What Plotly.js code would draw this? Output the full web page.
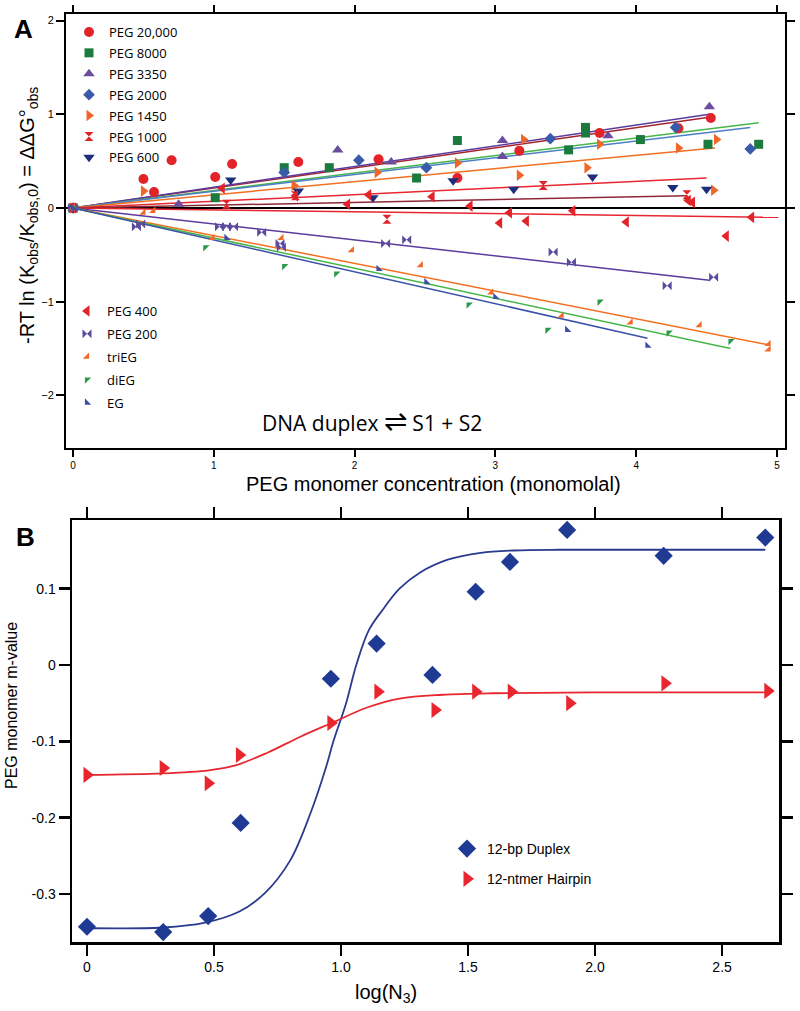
<!DOCTYPE html>
<html><head><meta charset="utf-8">
<script src="https://cdn.plot.ly/plotly-3.0.1.min.js"></script>
<style>html,body{margin:0;padding:0;background:#fff}#chart{width:800px;height:1011px}</style>
</head><body><div id="chart"></div>
<script>
// ---------- Panel A data (PEG monomer concentration, monomolal vs ΔΔG°obs) ----------
const peg20000X = [0, 0.50, 0.575, 0.70, 1.01, 1.13, 1.60, 2.17, 2.73, 3.17, 3.74, 4.30, 4.53];
const peg20000Y = [0, 0.31, 0.17, 0.51, 0.33, 0.47, 0.49, 0.52, 0.32, 0.61, 0.80, 0.85, 0.96];
const peg8000X = [0, 1.01, 1.50, 1.82, 2.44, 2.73, 3.52, 3.64, 3.64, 4.03, 4.51, 4.87];
const peg8000Y = [0, 0.11, 0.43, 0.43, 0.32, 0.72, 0.62, 0.86, 0.80, 0.73, 0.68, 0.68];
const peg3350X = [0, 0.75, 1.88, 2.26, 3.05, 3.05, 3.80, 4.52];
const peg3350Y = [0, 0.04, 0.62, 0.49, 0.72, 0.55, 0.77, 1.08];
const peg2000X = [0, 1.50, 2.03, 2.51, 3.39, 4.28, 4.81];
const peg2000Y = [0, 0.38, 0.51, 0.43, 0.74, 0.86, 0.63];
const peg1450X = [0, 0.50, 1.57, 2.16, 2.73, 3.17, 3.20, 3.65, 3.74, 4.30, 4.55, 4.57];
const peg1450Y = [0, 0.18, 0.24, 0.38, 0.48, 0.35, 0.73, 0.43, 0.68, 0.64, 0.19, 0.73];
const peg1000X = [0, 1.09, 1.58, 2.23, 3.34, 4.36];
const peg1000Y = [0, 0.04, 0.13, -0.12, 0.24, 0.14];
const peg600X = [0, 1.12, 1.60, 2.13, 2.70, 3.13, 3.69, 4.26, 4.50];
const peg600Y = [0, 0.30, 0.18, 0.11, 0.29, 0.20, 0.33, 0.22, 0.20];
const peg400X = [0, 1.06, 1.58, 1.95, 2.10, 2.55, 2.82, 3.03, 3.10, 3.22, 3.55, 3.93, 4.37, 4.40, 4.64, 4.82];
const peg400Y = [0, 0.21, 0.13, 0.04, 0.14, 0.12, 0.02, -0.16, -0.05, -0.14, -0.03, -0.15, 0.08, 0.06, -0.30, -0.10];
const peg200X = [0, 0.45, 0.48, 1.04, 1.09, 1.14, 1.34, 1.47, 1.48, 2.22, 2.37, 3.41, 3.54, 4.22, 4.55];
const peg200Y = [0, -0.20, -0.17, -0.20, -0.20, -0.20, -0.26, -0.38, -0.42, -0.38, -0.34, -0.47, -0.58, -0.83, -0.74];
const triEGX = [0, 0.50, 0.57, 0.99, 1.48, 1.98, 2.47, 2.97, 3.47, 3.96, 4.45, 4.94, 4.94];
const triEGY = [0, -0.05, -0.03, -0.32, -0.32, -0.45, -0.61, -0.90, -1.15, -1.22, -1.25, -1.45, -1.51];
const diEGX = [0, 0.94, 1.50, 1.87, 2.81, 3.37, 3.74, 4.23, 4.67];
const diEGY = [0, -0.42, -0.62, -0.70, -1.03, -1.30, -1.00, -1.33, -1.42];
const egX = [0, 1.09, 2.17, 2.51, 3.00, 3.51, 4.08];
const egY = [0, -0.32, -0.65, -0.79, -0.95, -1.30, -1.47];

// linear fits through the origin (end points)
const fit3350X = [0, 4.52], fit3350Y = [0, 1.00];
const fit20000X = [0, 4.53], fit20000Y = [0, 0.97];
const fit8000X = [0, 4.87], fit8000Y = [0, 0.91];
const fit2000X = [0, 4.81], fit2000Y = [0, 0.86];
const fit1450X = [0, 4.56], fit1450Y = [0, 0.64];
const fit600X = [0, 4.50], fit600Y = [0, 0.32];
const fit1000X = [0, 4.36], fit1000Y = [0, 0.13];
const fit400X = [0, 5.01], fit400Y = [0, -0.10];
const fit200X = [0, 4.52], fit200Y = [0, -0.77];
const fitTriX = [0, 4.94], fitTriY = [0, -1.46];
const fitDiX = [0, 4.67], fitDiY = [0, -1.50];
const fitEGX = [0, 4.08], fitEGY = [0, -1.39];

const aTickVals = [0, 1, 2, 3, 4, 5];
const aYTickVals = [-2, -1, 0, 1, 2];

// ---------- Panel B data (log(N3) vs PEG monomer m-value) ----------
const duplexX = [0, 0.30, 0.477, 0.605, 0.96, 1.14, 1.36, 1.53, 1.665, 1.89, 2.27, 2.67];
const duplexY = [-0.343, -0.350, -0.329, -0.207, -0.018, 0.028, -0.013, 0.096, 0.135, 0.177, 0.143, 0.167];
const hairpinX = [0, 0.30, 0.477, 0.60, 0.96, 1.145, 1.37, 1.53, 1.67, 1.90, 2.275, 2.68];
const hairpinY = [-0.144, -0.135, -0.155, -0.118, -0.076, -0.035, -0.059, -0.035, -0.035, -0.050, -0.024, -0.034];
const duplexFitX = [0, 0.3, 0.46, 0.6, 0.7, 0.8, 0.88, 0.94, 0.97, 1.02, 1.06, 1.11, 1.17, 1.23, 1.31, 1.42, 1.55, 1.68, 1.86, 2.2, 2.67];
const duplexFitY = [-0.345, -0.344, -0.338, -0.323, -0.299, -0.256, -0.194, -0.135, -0.10, -0.05, 0.0, 0.046, 0.075, 0.100, 0.121, 0.138, 0.147, 0.150, 0.151, 0.151, 0.151];
const hairpinFitX = [0, 0.3, 0.48, 0.58, 0.71, 0.84, 0.97, 1.1, 1.23, 1.4, 1.6, 2.0, 2.68];
const hairpinFitY = [-0.144, -0.142, -0.138, -0.132, -0.115, -0.094, -0.075, -0.056, -0.044, -0.039, -0.037, -0.036, -0.036];
const bTickVals = [0, 0.5, 1.0, 1.5, 2.0, 2.5];
const bTickText = ['0', '0.5', '1.0', '1.5', '2.0', '2.5'];
const bYTickVals = [-0.3, -0.2, -0.1, 0, 0.1];
const bYTickText = ['-0.3', '-0.2', '-0.1', '0', '0.1'];

// ---------- traces ----------
const traces = [];
function fitLine(x, y, color, xa, ya, w) {
  traces.push({x: x, y: y, xaxis: xa || 'x', yaxis: ya || 'y', mode: 'lines', type: 'scatter',
    line: {color: color, width: w || 1.5, shape: 'linear'}, showlegend: false, hoverinfo: 'skip'});
}
function spline(x, y, color) {
  traces.push({x: x, y: y, xaxis: 'x2', yaxis: 'y2', mode: 'lines', type: 'scatter',
    line: {color: color, width: 1.8, shape: 'spline', smoothing: 1}, showlegend: false, hoverinfo: 'skip'});
}
function pts(name, x, y, symbol, color, size, legend, xa, ya) {
  traces.push({name: name, x: x, y: y, xaxis: xa || 'x', yaxis: ya || 'y', mode: 'markers', type: 'scatter',
    marker: {symbol: symbol, color: color, size: size, line: {width: 0}},
    legend: legend, legendgroup: name});
}

fitLine(fit20000X, fit20000Y, '#a3262f');
fitLine(fit3350X, fit3350Y, '#5b3b9e');
fitLine(fit8000X, fit8000Y, '#46b649');
fitLine(fit2000X, fit2000Y, '#4d7fc4');
fitLine(fit1450X, fit1450Y, '#f36f21');
fitLine(fit600X, fit600Y, '#e8262f');
fitLine(fit1000X, fit1000Y, '#8e2838');
fitLine(fit400X, fit400Y, '#e8262f');
fitLine(fit200X, fit200Y, '#5b3b9e');
fitLine(fitTriX, fitTriY, '#f36f21');
fitLine(fitDiX, fitDiY, '#46b649');
fitLine(fitEGX, fitEGY, '#3a52a8');

pts('PEG 20,000', peg20000X, peg20000Y, 'circle', '#e2232a', 10, 'legend');
pts('PEG 8000', peg8000X, peg8000Y, 'square', '#1b7a3e', 9, 'legend');
pts('PEG 3350', peg3350X, peg3350Y, 'triangle-up', '#6b4c9f', 10, 'legend');
pts('PEG 2000', peg2000X, peg2000Y, 'diamond', '#3a5baa', 9, 'legend');
pts('PEG 1450', peg1450X, peg1450Y, 'triangle-right', '#f0662a', 10, 'legend');
pts('PEG 1000', peg1000X, peg1000Y, 'hourglass', '#e2232a', 9, 'legend');
pts('PEG 600', peg600X, peg600Y, 'triangle-down', '#1f2e7a', 10, 'legend');
pts('PEG 400', peg400X, peg400Y, 'triangle-left', '#e2232a', 10, 'legend2');
pts('PEG 200', peg200X, peg200Y, 'bowtie', '#5a4b9e', 9, 'legend2');
pts('triEG', triEGX, triEGY, 'triangle-se', '#ef6a2b', 7, 'legend2');
pts('diEG', diEGX, diEGY, 'triangle-nw', '#2a9a4a', 7, 'legend2');
pts('EG', egX, egY, 'triangle-sw', '#3a4fa5', 7, 'legend2');

spline(duplexFitX, duplexFitY, '#2a3b8f');
spline(hairpinFitX, hairpinFitY, '#e8262f');
pts('12-bp Duplex', duplexX, duplexY, 'diamond', '#1f3a93', 14, 'legend3', 'x2', 'y2');
pts('12-ntmer Hairpin', hairpinX, hairpinY, 'triangle-right', '#e8262f', 14, 'legend3', 'x2', 'y2');

// ---------- layout ----------
const W = 800, H = 1011;
const px = v => v / W;
const py = v => 1 - v / H;
const FONT = 'Liberation Sans, Arial, sans-serif';

const axA = {showline: true, linecolor: '#000', linewidth: 2, mirror: 'ticks', ticks: 'outside',
  ticklen: 8, tickwidth: 2, tickcolor: '#000', showgrid: false, zeroline: false,
  tickfont: {family: FONT, size: 11, color: '#000'}};
const axB = {showline: true, linecolor: '#000', linewidth: 2.5, mirror: 'ticks', ticks: 'outside',
  ticklen: 11, tickwidth: 2.5, tickcolor: '#000', showgrid: false, zeroline: false,
  tickfont: {family: FONT, size: 14, color: '#000'}};

function note(text, x, y, size, extra) {
  return Object.assign({text: text, x: px(x), y: py(y), xref: 'paper', yref: 'paper', showarrow: false,
    xanchor: 'center', yanchor: 'middle', font: {family: FONT, size: size, color: '#000'}}, extra || {});
}

const layout = {
  width: W, height: H, margin: {l: 0, r: 0, t: 0, b: 0},
  paper_bgcolor: '#fff', plot_bgcolor: '#fff',
  font: {family: FONT, color: '#000'},
  xaxis: Object.assign({}, axA, {domain: [px(66), px(785)], range: [-0.05, 5.057], tickvals: aTickVals,
    tickfont: {family: FONT, size: 10, color: '#000'}, ticklen: 7, anchor: 'y'}),
  yaxis: Object.assign({}, axA, {domain: [py(448), py(14)], range: [-2.561, 2.07], tickvals: aYTickVals,
    zeroline: true, zerolinecolor: '#000', zerolinewidth: 1.5, anchor: 'x'}),
  xaxis2: Object.assign({}, axB, {domain: [px(72), px(779)], range: [-0.059, 2.724], tickvals: bTickVals,
    ticktext: bTickText, anchor: 'y2'}),
  yaxis2: Object.assign({}, axB, {domain: [py(942), py(520)], range: [-0.363, 0.19], tickvals: bYTickVals,
    ticktext: bYTickText, anchor: 'x2'}),
  legend: {x: px(69), y: py(17), xanchor: 'left', yanchor: 'top', bgcolor: 'rgba(0,0,0,0)',
    font: {family: 'Open Sans, ' + FONT, size: 13, color: '#000'}, traceorder: 'grouped', tracegroupgap: 1},
  legend2: {x: px(67), y: py(296), xanchor: 'left', yanchor: 'top', bgcolor: 'rgba(0,0,0,0)',
    font: {family: 'Open Sans, ' + FONT, size: 13, color: '#000'}, traceorder: 'grouped', tracegroupgap: 3},
  legend3: {x: px(447), y: py(833), xanchor: 'left', yanchor: 'top', bgcolor: 'rgba(0,0,0,0)',
    font: {family: FONT, size: 14, color: '#000'}, traceorder: 'grouped', tracegroupgap: 9},
  annotations: [
    note('<b>A</b>', 23, 29, 26),
    note('<b>B</b>', 25, 537, 26),
    note('-RT ln (K<sub>obs</sub>/K<sub>obs,0</sub>) = ΔΔG°<sub>obs</sub>', 28, 216, 20, {textangle: -90}),
    note('PEG monomer concentration (monomolal)', 433, 484, 20),
    note('DNA duplex <span style="font-size:28px">⇌</span> S1 + S2', 372, 420, 21,
      {font: {family: 'Open Sans, ' + FONT, size: 21, color: '#000'}}),
    note('PEG monomer m-value', 11, 706, 16, {textangle: -90}),
    note('log(N<sub>3</sub>)', 386, 993, 20)
  ]
};

Plotly.newPlot('chart', traces, layout, {staticPlot: true, displayModeBar: false});
</script>
</body></html>
